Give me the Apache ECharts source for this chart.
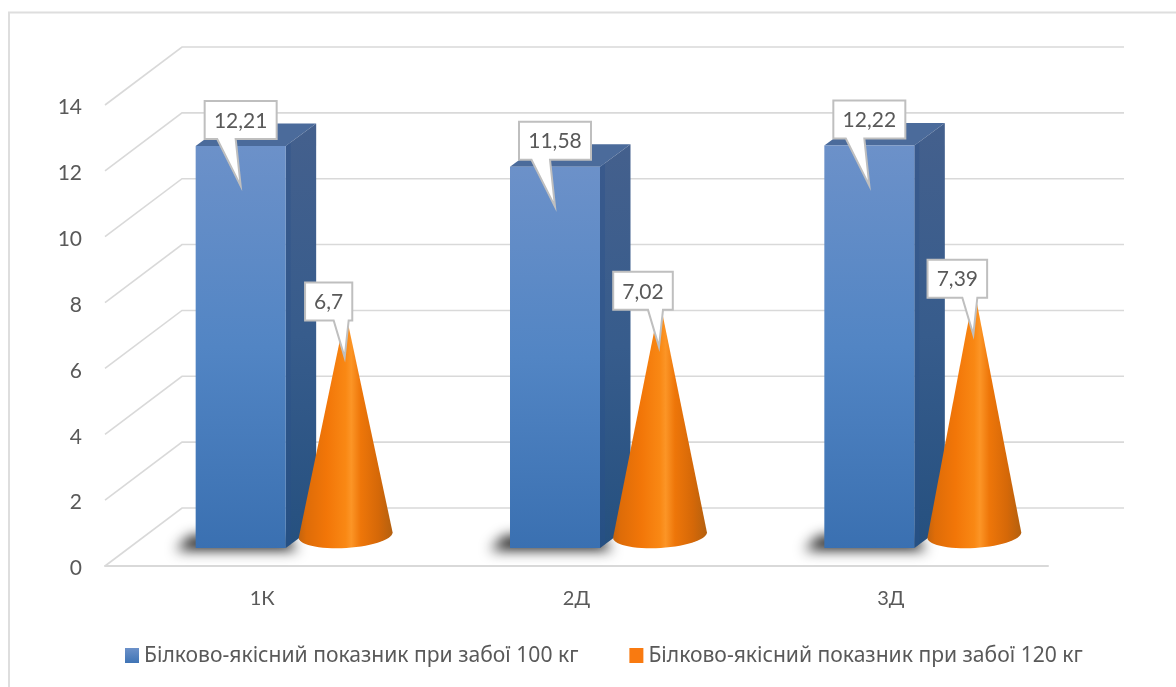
<!DOCTYPE html>
<html><head><meta charset="utf-8">
<style>html,body{margin:0;padding:0;background:#fff}#c{width:1176px;height:687px}</style>
<script src="https://cdn.jsdelivr.net/npm/echarts@6/dist/echarts.min.js"></script>
</head><body><div id="c"></div>
<script>
const categories = ['1К','2Д','3Д'];
const seriesNames = ['Білково-якісний показник при забої 100 кг','Білково-якісний показник при забої 120 кг'];
const values100 = [12.21, 11.58, 12.22];
const values120 = [6.7, 7.02, 7.39];
const yTicks = [0,2,4,6,8,10,12,14];

const NUMFONT = 'Lato, "Open Sans", sans-serif';
const TXTFONT = '"Noto Sans", "Open Sans", sans-serif';
const TEXT = '#595959', GRID = '#d9d9d9';
const WALL_DX = 77, WALL_DY = 58;
const lin = (x,y,x2,y2,stops)=>new echarts.graphic.LinearGradient(x,y,x2,y2,stops.map(c=>({offset:c[0],color:c[1]})));
const comma = v => String(v).replace('.',',');

function callout(text, x0, y0, w, h, t1, t2, tx, ty){
  return [
    {type:'polygon',shape:{points:[[x0,y0],[x0+w,y0],[x0+w,y0+h],[t2,y0+h],[tx,ty],[t1,y0+h],[x0,y0+h]]},
      style:{fill:'#fff',stroke:'#bfbfbf',lineWidth:2,lineJoin:'miter'}},
    {type:'text',x:x0+w/2,y:y0+h/2+1,style:{text,fill:TEXT,font:'21px '+NUMFONT,align:'center',verticalAlign:'middle'}}
  ];
}

function renderWall(params, api){
  const cs = params.coordSys, y = api.coord([0, api.value(0)])[1];
  return {type:'polyline',shape:{points:[[cs.x,y],[cs.x+WALL_DX,y-WALL_DY],[cs.x+cs.width+WALL_DX-1,y-WALL_DY]]},
    style:{fill:'none',stroke:GRID,lineWidth:1.6}, silent:true};
}

function renderBar(params, api){
  const p = api.coord([api.value(0), api.value(1)]), p0 = api.coord([api.value(0), 0]);
  const L = p[0]-66.5, R = L+90, T = p[1]-18, B = p0[1]-18, dx = 30.5, dy = 22.5, OFF = 3000;
  const shadowPts = [[L-20,B+2],[L-5,B-12],[R,B-12],[R+12,B+2]].map(q=>[q[0]-OFF,q[1]]);
  const kids = [
    {type:'polygon',shape:{points:shadowPts},
      style:{fill:'#000',shadowBlur:13,shadowColor:'rgba(0,0,0,.9)',shadowOffsetX:OFF}},
    {type:'polygon',shape:{points:[[L,T],[L+dx,T-dy],[R+dx,T-dy],[R,T]]},style:{fill:'#4b6b9b'}},
    {type:'polygon',shape:{points:[[R,T],[R+dx,T-dy],[R+dx,B-dy],[R,B]]},
      style:{fill:lin(0,0,0,1,[[0,'#44608d'],[.5,'#375c8c'],[1,'#25507f']])}},
    {type:'polygon',shape:{points:[[R,T],[R+5,T-3.7],[R+5,B-3.7],[R,B]]},style:{fill:'rgba(40,80,140,.35)'}},
    {type:'rect',shape:{x:L,y:T,width:R-L,height:B-T},
      style:{fill:lin(0,0,0,1,[[0,'#6c91c9'],[.5,'#5285c4'],[1,'#3a70b1']])}}
  ];
  const s = comma(api.value(1)), cx=(L+R)/2, w = 10+12.4*s.length;
  return {type:'group',children:kids.concat(callout(s,cx-w/2,T-45,w,38,cx-24+0.5,cx-5,cx,T+40))};
}

function renderCone(params, api){
  const p = api.coord([api.value(0), api.value(1)]), p0 = api.coord([api.value(0), 0]);
  const cx = p[0]+83.5, cy = p0[1]-31, ax = cx, ay = p[1]-33, rx = 47, ry = 13, tilt = -3.5*Math.PI/180;
  const pts = [[ax,ay]];
  for(let a=180;a>=0;a-=6){
    const r=a*Math.PI/180, ex=rx*Math.cos(r), ey=ry*Math.sin(r);
    pts.push([cx+ex*Math.cos(tilt)-ey*Math.sin(tilt), cy+ex*Math.sin(tilt)+ey*Math.cos(tilt)]);
  }
  const s = comma(api.value(1)), w = 10+12.4*s.length, bx = cx-17;
  const kids = [
    {type:'polygon',shape:{points:pts},style:{fill:lin(0,0,1,0,[[0,'#c4640e'],[.08,'#de6c08'],[.3,'#f27608'],[.5,'#f98814'],[.56,'#fc9526'],[.66,'#ee7609'],[.85,'#d56808'],[1,'#b4600f']])}}
  ];
  return {type:'group',children:kids.concat(callout(s,bx-w/2,ay-30,w,38,cx-12,cx+3,cx-1,ay+45))};
}

const chart = echarts.init(document.getElementById('c'),null,{renderer:'canvas'});
chart.setOption({
  animation:false,
  backgroundColor:'#fff',
  grid:{left:105,top:105,width:943,height:461,containLabel:false},
  graphic:[{type:'polyline',silent:true,shape:{points:[[9,687],[9,12.5],[1176,12.5]]},style:{fill:'none',stroke:'#dedede',lineWidth:2}}],
  xAxis:{type:'category',data:categories,axisTick:{show:false},
    axisLine:{lineStyle:{color:GRID,width:2}},
    axisLabel:{color:TEXT,fontSize:20,margin:23,fontFamily:NUMFONT}},
  yAxis:{type:'value',min:0,max:14,interval:2,axisLine:{show:false},axisTick:{show:false},splitLine:{show:false},
    axisLabel:{margin:23,formatter:v=>'{a|'+v+'}',
      rich:{a:{color:TEXT,fontSize:21,fontFamily:NUMFONT,lineHeight:21,padding:[5,0,0,0]}}}},
  legend:{show:true,left:125,top:645,padding:0,itemWidth:14,itemHeight:15,itemGap:51,icon:'rect',
    data:seriesNames,textStyle:{color:TEXT,fontSize:21.1,fontFamily:TXTFONT},selectedMode:false},
  series:[
    {type:'custom',name:'wall',silent:true,z:1,data:yTicks.map(v=>[v]),encode:{x:-1,y:0},renderItem:renderWall},
    {type:'custom',name:seriesNames[0],silent:true,z:2,itemStyle:{color:lin(0,0,0,1,[[0,'#6c91c9'],[1,'#3f74b5']])},
      data:values100.map((v,i)=>[i,v]),encode:{x:0,y:1},renderItem:renderBar},
    {type:'custom',name:seriesNames[1],silent:true,z:3,itemStyle:{color:'#f97a10'},
      data:values120.map((v,i)=>[i,v]),encode:{x:0,y:1},renderItem:renderCone}
  ]
});
</script></body></html>
